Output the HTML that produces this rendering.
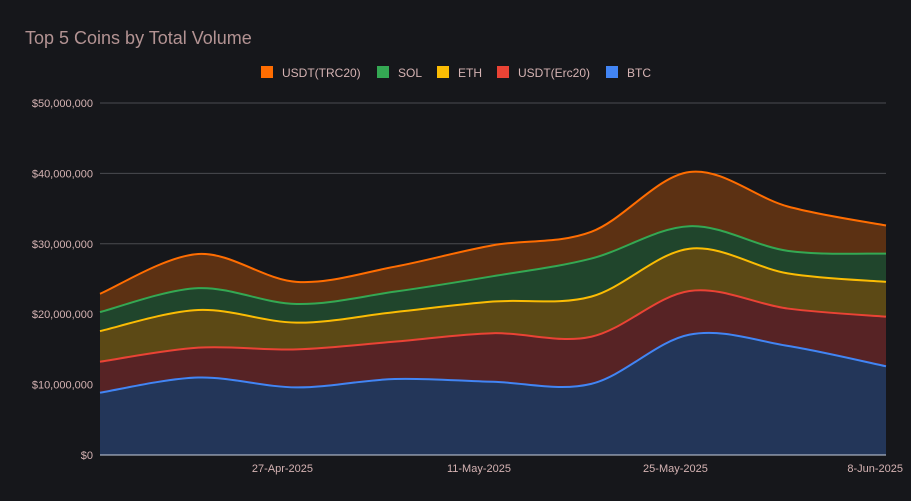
<!DOCTYPE html>
<html><head><meta charset="utf-8">
<style>
html,body{margin:0;padding:0;background:#16171b;}
svg{display:block;font-family:"Liberation Sans",Arial,sans-serif;}
</style></head>
<body>
<svg id="chart" width="911" height="501">
<rect width="911" height="501" fill="#16171b"/>
<text x="25" y="44" font-size="18" fill="#b39393">Top 5 Coins by Total Volume</text>
<g id="grid"></g>
<g id="areas"></g>
<g id="axes"></g>
<g id="legend"></g>
</svg>
<script>
const categories = ["14-Apr-2025","21-Apr-2025","28-Apr-2025","5-May-2025","12-May-2025","19-May-2025","26-May-2025","2-Jun-2025","9-Jun-2025"];
const seriesNames = ["BTC","USDT(Erc20)","ETH","SOL","USDT(TRC20)"];
const btc = [8.85,11.0,9.6,10.8,10.4,10.1,17.1,15.5,12.6];
const usdtErc20 = [4.4,4.25,5.4,5.3,6.9,6.7,6.2,5.3,7.05];
const eth = [4.35,5.35,3.8,4.2,4.5,5.7,6.0,5.0,4.95];
const sol = [2.7,3.1,2.65,2.9,3.6,5.4,3.2,3.2,4.0];
const usdtTrc20 = [2.6,4.85,3.15,3.55,4.4,3.8,7.7,6.3,4.0];
const yTicks = [0,10,20,30,40,50];
const yTickLabels = ["$0","$10,000,000","$20,000,000","$30,000,000","$40,000,000","$50,000,000"];
const xTickLabels = ["27-Apr-2025","11-May-2025","25-May-2025","8-Jun-2025"];
const xTickDays = [13,27,41,55];

const NS="http://www.w3.org/2000/svg";
const L=100,R=886,T=103,B=455;
const yMax=50;
const nDays=56;
function xDay(d){return L+(R-L)*d/nDays;}
function xIdx(i){return xDay(i*7);}
function y(v){return B-(B-T)*v/yMax;}
function mk(tag,attrs,parent){const e=document.createElementNS(NS,tag);for(const k in attrs)e.setAttribute(k,attrs[k]);parent.appendChild(e);return e;}

const lineColors=["#4285f4","#ea4335","#fbbc04","#34a853","#ff6d01"];
const fillColors=["#233659","#572325","#5c4915","#20452c","#5c3113"];
const seriesData=[btc,usdtErc20,eth,sol,usdtTrc20];
const dn=["btc","usdt-erc20","eth","sol","usdt-trc20"];

const grid=document.getElementById('grid');
yTicks.forEach((t,i)=>{
  const ln=mk('line',{x1:L,x2:R,y1:y(t),y2:y(t),stroke:i==0?"#c8d0e0":"#4a4b50","stroke-width":1},grid);
  
  
});

// cumulative
const cum=[];let acc=categories.map(()=>0);
seriesData.forEach(s=>{acc=acc.map((a,i)=>a+s[i]);cum.push(acc.slice());});

function smoothPts(vals){
  const p=vals.map((v,i)=>[xIdx(i),y(v)]);
  let d="";
  for(let i=0;i<p.length-1;i++){
    const p0=p[Math.max(0,i-1)],p1=p[i],p2=p[i+1],p3=p[Math.min(p.length-1,i+2)];
    const c1=[p1[0]+(p2[0]-p0[0])/6,p1[1]+(p2[1]-p0[1])/6];
    const c2=[p2[0]-(p3[0]-p1[0])/6,p2[1]-(p3[1]-p1[1])/6];
    d+=` C${c1[0]},${c1[1]} ${c2[0]},${c2[1]} ${p2[0]},${p2[1]}`;
  }
  return {start:p[0],d};
}
function revPath(vals){
  const rv=vals.slice().reverse();
  const p=rv.map((v,i)=>[xIdx(vals.length-1-i),y(v)]);
  let d="";
  for(let i=0;i<p.length-1;i++){
    const p0=p[Math.max(0,i-1)],p1=p[i],p2=p[i+1],p3=p[Math.min(p.length-1,i+2)];
    const c1=[p1[0]+(p2[0]-p0[0])/6,p1[1]+(p2[1]-p0[1])/6];
    const c2=[p2[0]-(p3[0]-p1[0])/6,p2[1]-(p3[1]-p1[1])/6];
    d+=` C${c1[0]},${c1[1]} ${c2[0]},${c2[1]} ${p2[0]},${p2[1]}`;
  }
  return {start:p[0],d};
}
const areas=document.getElementById('areas');
cum.forEach((top,k)=>{
  const t=smoothPts(top);
  let d=`M${t.start[0]},${t.start[1]}`+t.d;
  if(k==0){d+=` L${xIdx(top.length-1)},${B} L${L},${B} Z`;}
  else{const b=revPath(cum[k-1]);d+=` L${b.start[0]},${b.start[1]}`+b.d+" Z";}
  const a=mk('path',{d:d,fill:fillColors[k]},areas);
  
  
});
cum.forEach((top,k)=>{
  const t=smoothPts(top);
  const l=mk('path',{d:`M${t.start[0]},${t.start[1]}`+t.d,fill:"none",stroke:lineColors[k],"stroke-width":2},areas);
  
  
});
mk('line',{x1:L,x2:R,y1:B,y2:B,stroke:"#c8d0e0","stroke-width":1},areas);

const axes=document.getElementById('axes');
yTicks.forEach((t,i)=>{
  const tx=mk('text',{x:93,y:y(t)+4,"text-anchor":"end","font-size":11,fill:"#d5b3b3"},axes);
  tx.textContent=yTickLabels[i];
  
  
});
xTickLabels.forEach((s,i)=>{
  let xx=xDay(xTickDays[i]);
  const anchor = i==xTickLabels.length-1 ? "end":"middle";
  if(i==xTickLabels.length-1) xx=903;
  const tx=mk('text',{x:xx,y:472,"text-anchor":anchor,"font-size":11,fill:"#d5b3b3"},axes);
  tx.textContent=s;
  
  
});

const legend=document.getElementById('legend');
const legOrder=[4,3,2,1,0];
const legX=[261,377,437,497,606];
legOrder.forEach((k,j)=>{
  const g=mk('g',{},legend);
  
  
  mk('rect',{x:legX[j],y:66,width:12,height:12,fill:lineColors[k]},g);
  const tx=mk('text',{x:legX[j]+21,y:77,"font-size":12,fill:"#d5b3b3"},g);
  tx.textContent=seriesNames[k];
});
</script>
</body></html>
